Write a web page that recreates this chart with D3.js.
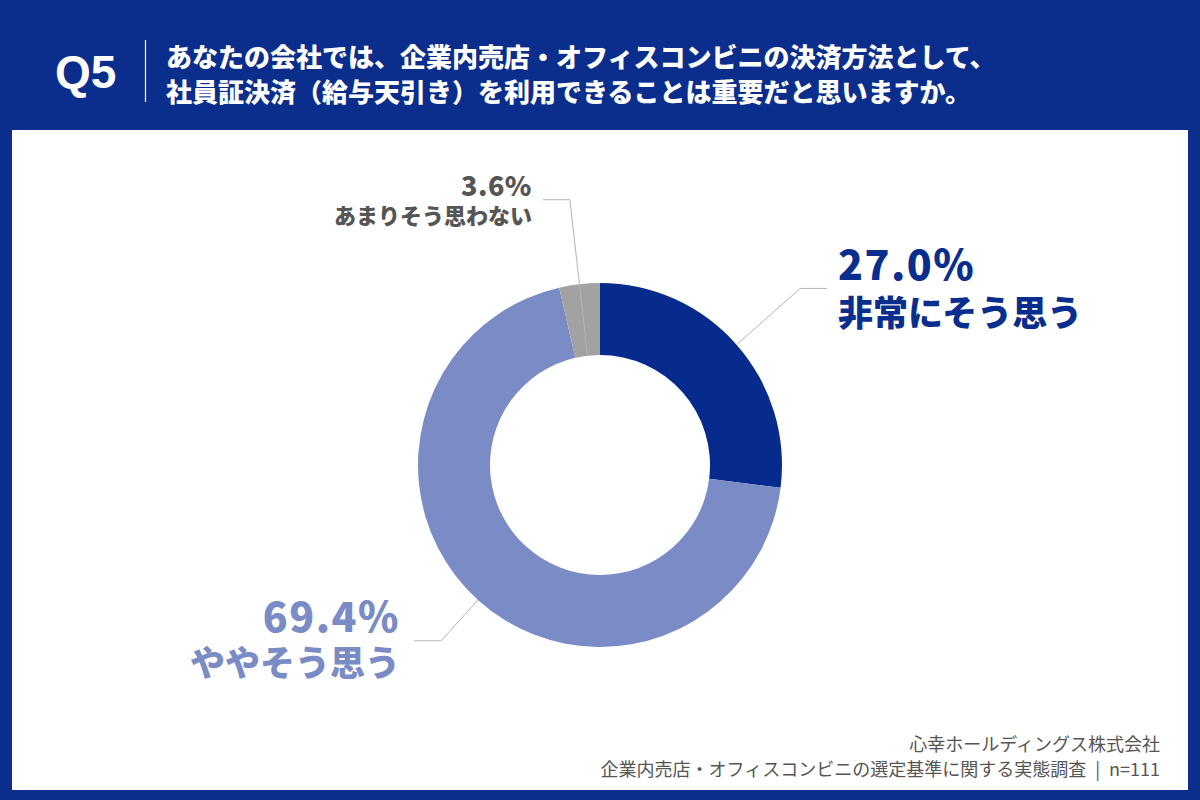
<!DOCTYPE html>
<html><head><meta charset="utf-8">
<script src="https://cdn.jsdelivr.net/npm/d3@7/dist/d3.min.js"></script>
<style>
html,body{margin:0;padding:0;background:#0b2d8c;}
svg{display:block;}
</style></head>
<body>
<script>
// ---- data ----
const categories = ["非常にそう思う", "ややそう思う", "あまりそう思わない"];
const values = [27.0, 69.4, 3.6];
const questionNo = "Q5";
const titleLines = ["あなたの会社では、企業内売店・オフィスコンビニの決済方法として、",
                    "社員証決済（給与天引き）を利用できることは重要だと思いますか。"];
const sourceLines = ["心幸ホールディングス株式会社",
                     "企業内売店・オフィスコンビニの選定基準に関する実態調査\u2002|\u2002n=111"];

// ---- styles / layout ----
const palette = ["#062b8c", "#7a8bc5", "#a2a2a3"];
const labelColors = ["#0a2e8e", "#7a8bc5", "#555555"];
const W = 1200, H = 800;
const cx = 600, cy = 465, rOuter = 182, rInner = 110;
const jp = "'Noto Sans CJK JP','Noto Sans',sans-serif";
// label layout per slice: line start radius, elbow radius, horizontal dir, text anchor x, y
const labelLayout = [
  {r0: rOuter, rElbow: 267, dir: 1,  tx: 838, pctY: 265, pctSize: 41, pctLS: 1.5, catY: 313, catSize: 35, anchor: "start"},
  {r0: rOuter, rElbow: 237, dir: -1, tx: 400, pctY: 617, pctSize: 41, pctLS: 1.5, catY: 663, catSize: 35, anchor: "end"},
  {r0: rInner, rElbow: 267, dir: -1, tx: 532, pctY: 186, pctSize: 27, pctLS: 0.5, catY: 216, catSize: 22, anchor: "end"}
];

const svg = d3.select("body").append("svg").attr("width", W).attr("height", H);

// background
svg.append("rect").attr("width", W).attr("height", H).attr("fill", "#0b2d8c");
svg.append("rect").attr("x", 12).attr("y", 130).attr("width", W - 24).attr("height", 660).attr("fill", "#ffffff");

// header
svg.append("text").attr("x", 55).attr("y", 88).text(questionNo)
  .attr("fill", "#fff").attr("font-family", "'Liberation Sans',Arial,sans-serif")
  .attr("font-weight", 700).attr("font-size", 46);
svg.append("line").attr("x1", 145.5).attr("x2", 145.5).attr("y1", 40).attr("y2", 102)
  .attr("stroke", "#ffffff").attr("stroke-width", 1.2);
svg.append("g").selectAll("text").data(titleLines).join("text")
  .attr("x", 166).attr("y", (d, i) => 67 + i * 35)
  .attr("fill", "#fff").attr("font-family", jp).attr("font-weight", 900)
  .attr("font-size", 26).text(d => d);

// donut
const pie = d3.pie().sort(null).value(d => d.v);
const arcs = pie(categories.map((c, i) => ({c, v: values[i], i})));
const arc = d3.arc().innerRadius(rInner).outerRadius(rOuter);
const g = svg.append("g").attr("transform", `translate(${cx},${cy})`);
g.selectAll("path").data(arcs).join("path")
  .attr("d", arc).attr("fill", d => palette[d.data.i]);

// leader lines + labels
const fmt = d3.format(".1f");
arcs.forEach(a => {
  const L = labelLayout[a.data.i];
  const ang = (a.startAngle + a.endAngle) / 2;
  const pt = r => [cx + r * Math.sin(ang), cy - r * Math.cos(ang)];
  const p0 = pt(L.r0), p1 = pt(L.rElbow), p2 = [p1[0] + L.dir * 27, p1[1]];
  svg.append("path").attr("d", d3.line()([p0, p1, p2]))
    .attr("fill", "none").attr("stroke", "#b4b4b4").attr("stroke-width", 1);
  svg.append("text").attr("x", L.tx).attr("y", L.pctY).attr("dy", "0.36em")
    .attr("text-anchor", L.anchor).attr("fill", labelColors[a.data.i])
    .attr("font-family", jp).attr("font-weight", 900).attr("font-size", L.pctSize)
    .attr("letter-spacing", L.pctLS)
    .text(fmt(a.data.v) + "%");
  svg.append("text").attr("x", L.tx).attr("y", L.catY).attr("dy", "0.36em")
    .attr("text-anchor", L.anchor).attr("fill", labelColors[a.data.i])
    .attr("font-family", jp).attr("font-weight", 900).attr("font-size", L.catSize)
    .text(a.data.c);
});

// source
svg.append("g").selectAll("text").data(sourceLines).join("text")
  .attr("x", 1160).attr("y", (d, i) => 745 + i * 25).attr("dy", "0.36em")
  .attr("text-anchor", "end").attr("fill", "#555").attr("font-family", jp)
  .attr("font-size", 18).text(d => d);
</script>
</body></html>
